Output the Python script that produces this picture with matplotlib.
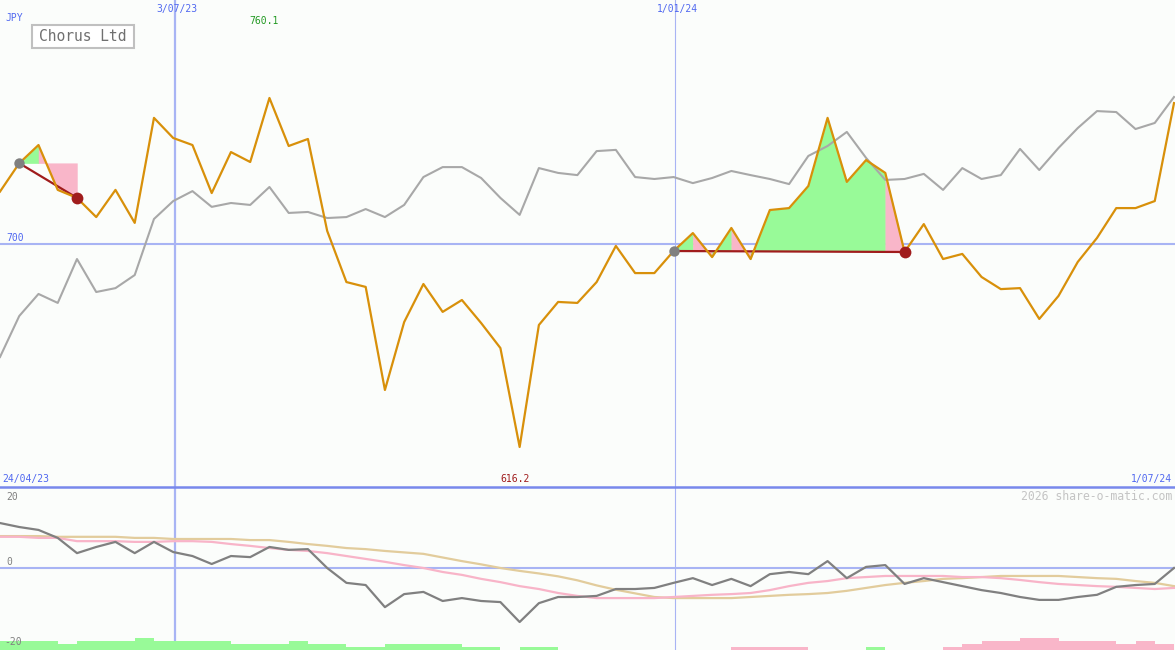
import matplotlib
matplotlib.use('Agg')
import matplotlib.pyplot as plt
from matplotlib.patches import Rectangle
from matplotlib.lines import Line2D
import numpy as np

# ---------------- data ----------------
title = "Chorus Ltd"
currency = "JPY"
start_label = "24/04/23"
end_label = "1/07/24"
month_labels = ["3/07/23", "1/01/24"]
ref_level = 700
watermark = "2026 share-o-matic.com"
osc_ticks = [20, 0, -20]

price = [721.5, 733.2, 740.7, 722.2, 718.9, 711.0, 722.2, 708.6, 751.9, 743.6,
         740.7, 720.9, 737.8, 733.7, 760.1, 740.3, 743.2, 705.3, 684.2, 682.2,
         639.7, 667.7, 683.4, 671.9, 676.8, 667.3, 657.0, 616.2, 666.5, 676.0,
         675.6, 684.2, 699.1, 687.9, 687.9, 697.0, 704.4, 694.5, 706.5, 693.7,
         713.9, 714.7, 723.8, 751.9, 725.5, 734.5, 729.2, 696.6, 708.1, 693.7,
         695.8, 686.3, 681.3, 681.7, 669.0, 678.5, 692.5, 702.4, 714.7, 714.7,
         717.6, 758.0]

compare = [653.3, 670.2, 679.3, 675.6, 693.7, 680.1, 681.7, 687.1, 710.2, 717.6,
           721.7, 715.2, 716.8, 716.0, 723.4, 712.7, 713.1, 710.6, 711.0, 714.3,
           711.0, 716.0, 727.5, 731.6, 731.6, 727.1, 718.9, 711.9, 731.2, 729.2,
           728.3, 738.2, 738.7, 727.5, 726.7, 727.5, 725.0, 727.1, 730.0, 728.3,
           726.7, 724.6, 736.2, 740.3, 746.1, 735.4, 726.3, 726.7, 728.8, 722.2,
           731.2, 726.7, 728.3, 739.1, 730.4, 739.5, 747.7, 754.7, 754.3, 747.3,
           749.8, 760.5]

momentum = [12.4, 11.3, 10.5, 8.3, 4.1, 5.8, 7.2, 4.1, 7.2, 4.4,
            3.3, 1.1, 3.3, 3.0, 5.8, 5.0, 5.2, 0.0, -4.1, -4.7,
            -10.8, -7.2, -6.6, -9.1, -8.3, -9.1, -9.4, -14.9, -9.7, -8.0,
            -8.0, -7.7, -5.8, -5.8, -5.5, -4.1, -2.8, -4.7, -3.0, -5.0,
            -1.7, -1.1, -1.7, 1.9, -2.8, 0.3, 0.8, -4.4, -2.8, -3.9,
            -5.0, -6.1, -6.9, -8.0, -8.8, -8.8, -8.0, -7.4, -5.2, -4.7,
            -4.4, 0.0]

avg_fast = [8.6, 8.6, 8.3, 8.3, 7.4, 7.4, 7.4, 7.2, 7.2, 7.4,
            7.4, 7.2, 6.6, 6.1, 5.5, 5.0, 4.7, 4.1, 3.3, 2.5,
            1.7, 0.8, 0.0, -1.1, -1.9, -3.0, -3.9, -5.0, -5.8, -6.9,
            -7.7, -8.3, -8.3, -8.3, -8.3, -8.0, -7.7, -7.4, -7.2, -6.9,
            -6.1, -5.0, -4.1, -3.6, -2.8, -2.5, -2.2, -2.2, -2.2, -2.2,
            -2.5, -2.5, -2.8, -3.3, -3.9, -4.4, -4.7, -5.0, -5.2, -5.5,
            -5.8, -5.5]

avg_slow = [8.8, 8.8, 8.8, 8.6, 8.6, 8.6, 8.6, 8.3, 8.3, 8.0,
            8.0, 8.0, 8.0, 7.7, 7.7, 7.2, 6.6, 6.1, 5.5, 5.2,
            4.7, 4.3, 3.9, 2.9, 1.9, 1.0, 0.0, -0.8, -1.5, -2.3,
            -3.4, -4.8, -6.0, -7.0, -8.0, -8.3, -8.3, -8.3, -8.3, -8.0,
            -7.7, -7.4, -7.2, -6.9, -6.3, -5.5, -4.7, -4.1, -3.6, -3.0,
            -2.8, -2.5, -2.2, -2.2, -2.2, -2.2, -2.5, -2.8, -3.0, -3.6,
            -4.1, -5.0]

histogram = [2.5, 2.5, 2.5, 1.7, 2.5, 2.5, 2.5, 3.3, 2.5, 2.5,
             2.5, 2.5, 1.7, 1.7, 1.7, 2.5, 1.7, 1.7, 0.8, 0.8,
             1.7, 1.7, 1.7, 1.7, 0.8, 0.8, 0.0, 0.8, 0.8, 0.0,
             0.0, 0.0, 0.0, 0.0, 0.0, 0.0, 0.0, 0.0, -0.8, -0.8,
             -0.8, -0.8, 0.0, 0.0, 0.0, 0.8, 0.0, 0.0, 0.0, -0.8,
             -1.7, -2.5, -2.5, -3.3, -3.3, -2.5, -2.5, -2.5, -1.7, -2.5,
             -1.7, 0.0]

# trades: (entry index, exit index, per-segment colour code G/P)
trade_entries = [1, 35]
trade_exits = [4, 47]
trade_segments = ["GPP", "GPGPGGGGGGGP"]

# ---------------- style ----------------
W, H = 1175, 650
BG = '#fbfdfb'
BLUE_TXT = '#5068f0'
GRID = '#a8b4f4'
SEP = '#7888ec'
ORANGE = '#d8900a'
GRAYLINE = '#a8a8a8'
DARKRED = '#a01c1c'
GREEN_FILL = '#98fa98'
PINK_FILL = '#f9b6c9'
MONO = 'DejaVu Sans Mono'

n = len(price)
x = np.arange(n)
x_right = (n - 1) * W / (W - 1)

fig = plt.figure(figsize=(W / 100, H / 100), dpi=100)
fig.patch.set_facecolor(BG)

split = 487
ax = fig.add_axes([0, (H - split) / H, 1, split / H])
ax2 = fig.add_axes([0, 0, 1, (H - split) / H])
for a in (ax, ax2):
    a.set_facecolor(BG)
    a.set_xlim(0, x_right)
    a.set_axis_off()

ax.set_ylim(599.7, 800.5)
ax2.set_ylim(-22.62, 22.34)

def px_to_x(px):
    return px * (n - 1) / (W - 1)

# reference lines
ax.axhline(ref_level, color=GRID, lw=1.5, zorder=1)
ax2.axhline(0, color=GRID, lw=1.5, zorder=1)
for a in (ax, ax2):
    a.axvline(px_to_x(175), color=GRID, lw=1.6, zorder=1)
    a.axvline(px_to_x(675), color=GRID, lw=0.8, zorder=1)

# trade fills (contiguous runs of same colour drawn as one polygon)
pr = np.array(price)
for ent, ext, segs in zip(trade_entries, trade_exits, trade_segments):
    base = price[ent]
    k = 0
    while k < len(segs):
        c = segs[k]
        j = k
        while j + 1 < len(segs) and segs[j + 1] == c:
            j += 1
        a0, a1 = ent + k, ent + j + 1
        col = GREEN_FILL if c == 'G' else PINK_FILL
        ax.fill_between(x[a0:a1 + 1], pr[a0:a1 + 1], base,
                        color=col, lw=0.3, edgecolor=col, zorder=2)
        k = j + 1

ax.plot(x, compare, color=GRAYLINE, lw=1.5, zorder=3)

for ent, ext in zip(trade_entries, trade_exits):
    ax.plot([ent, ext], [price[ent], price[ext]], color=DARKRED, lw=1.6,
            zorder=4, solid_capstyle='butt')

ax.plot(x, price, color=ORANGE, lw=1.6, zorder=5)

for ent, ext in zip(trade_entries, trade_exits):
    ax.plot(ent, price[ent], 'o', color='#808080', ms=7.5, mew=0, zorder=6)
    ax.plot(ext, price[ext], 'o', color=DARKRED, ms=8.5, mew=0, zorder=6)

# oscillator panel
hist = np.array(histogram)
ymin2 = ax2.get_ylim()[0]
ax2.bar(x, np.abs(hist), bottom=ymin2, width=1.0, align='edge',
        color=[GREEN_FILL if v > 0 else PINK_FILL for v in hist], lw=0, zorder=2)
ax2.plot(x, avg_slow, color='#e2cc9c', lw=1.6, zorder=3)
ax2.plot(x, avg_fast, color='#f8b4c8', lw=1.6, zorder=3)
ax2.plot(x, momentum, color='#808080', lw=1.6, zorder=4)

# separator
fig.add_artist(Line2D([0, 1], [(H - split) / H] * 2, transform=fig.transFigure,
                      color=SEP, lw=1.8))

def ftext(px, py, s, **kw):
    kw.setdefault('family', MONO)
    kw.setdefault('fontsize', 7)
    kw.setdefault('va', 'center')
    fig.text(px / W, 1 - py / H, s, **kw)

ftext(5, 18, currency, color=BLUE_TXT, ha='left')
ftext(177, 9, month_labels[0], color=BLUE_TXT, ha='center')
ftext(677, 9, month_labels[1], color=BLUE_TXT, ha='center')
ftext(6, 238, str(ref_level), color=BLUE_TXT, ha='left')
ftext(2, 479, start_label, color=BLUE_TXT, ha='left')
ftext(1172, 479, end_label, color=BLUE_TXT, ha='right')

imax = int(np.argmax(price))
imin = int(np.argmin(price))
ftext(imax * (W - 1) / (n - 1) - 5, 21, f"{price[imax]:.1f}", color='#229922', ha='center')
ftext(imin * (W - 1) / (n - 1) - 5, 479, f"{price[imin]:.1f}", color=DARKRED, ha='center')

ftext(1172, 496, watermark, color='#c4c4c4', ha='right', fontsize=8.3)
for val, py, px in zip(osc_ticks, [497, 562, 642], [6, 6, 4]):
    ftext(px, py, str(val), color='#808080', ha='left')

# title box
fig.add_artist(Rectangle((32 / W, 1 - 48 / H), 102 / W, 23 / H,
                         transform=fig.transFigure, facecolor='white',
                         edgecolor='#c0c0c0', lw=1.5))
ftext(83, 36.5, title, color='#707070', ha='center', fontsize=10.5)

fig.savefig('out.png', dpi=100, facecolor=BG)
